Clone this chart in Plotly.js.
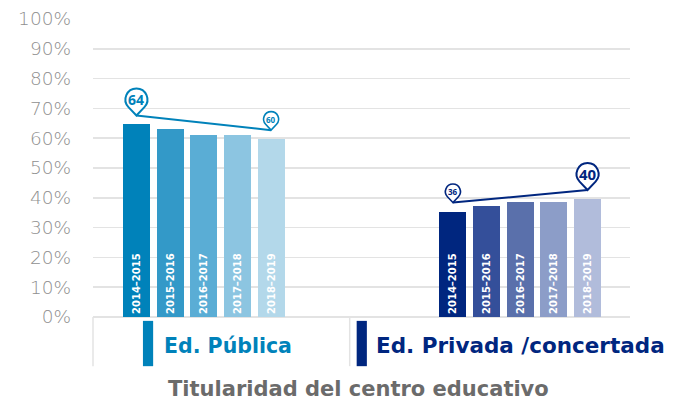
<!DOCTYPE html>
<html>
<head>
<meta charset="utf-8">
<script src="https://cdn.plot.ly/plotly-3.0.1.min.js"></script>
<style>
  html, body { margin: 0; padding: 0; background: #fff; }
  #chart { width: 676px; height: 403px; }
</style>
</head>
<body>
<div id="chart"></div>
<script>
// Datos
const cursos = ['2014–2015', '2015–2016', '2016–2017', '2017–2018', '2018–2019'];
const grupos = ['Ed. Pública', 'Ed. Privada /concertada'];
const publica = [64.6, 63.1, 61.2, 61.1, 59.7];
const privada = [35.4, 37.3, 38.6, 38.7, 39.6];
const etiquetasPublica = ['64', '60'];
const etiquetasPrivada = ['36', '40'];
const yTicks = [0, 10, 20, 30, 40, 50, 60, 70, 80, 90, 100];

const coloresPublica = ['#0082ba', '#3399c8', '#5aadd5', '#8cc5e1', '#b3d8ea'];
const coloresPrivada = ['#00267f', '#344f9a', '#5a70ab', '#8c9dc8', '#b1bcdb'];
const azul = '#0082ba';
const marino = '#00267f';

const FONT = '"DejaVu Sans", "Open Sans", sans-serif';
const FONT_PIN = '"Open Sans", "DejaVu Sans", sans-serif';
const GAP = 9.4; // separación entre grupos (en unidades de eje)

// Posiciones de las barras
const xPub = cursos.map((c, i) => i);
const xPriv = cursos.map((c, i) => i + GAP);

const barra = (x, y, colores) => ({
    type: 'bar',
    x: x,
    y: y,
    width: 0.8,
    marker: { color: colores, line: { width: 0 } },
    text: cursos,
    textposition: 'inside',
    insidetextanchor: 'start',
    textangle: -90,
    constraintext: 'none',
    textfont: { family: FONT, size: 10, color: '#ffffff', weight: 'bold' },
    hoverinfo: 'skip',
    showlegend: false
});

// Línea entre las dos chinchetas (punta 3 puntos por encima de la barra)
const OFF = 3;
const linea = (x, y, color) => ({
    type: 'scatter',
    mode: 'lines',
    x: [x[0], x[x.length - 1]],
    y: [y[0] + OFF, y[y.length - 1] + OFF],
    line: { color: color, width: 2 },
    hoverinfo: 'skip',
    showlegend: false
});

// Forma de chincheta en píxeles relativos a la punta
function pinPath(r, h) {
    const th = Math.acos(r / h);
    const a0 = -Math.PI / 2 - th;
    const total = 2 * Math.PI - 2 * th;
    const n = 4;
    const step = -total / n;
    const k = 4 / 3 * Math.tan(Math.abs(step) / 4) * r;
    const pt = a => [r * Math.cos(a), h + r * Math.sin(a)];
    let a = a0;
    let p = pt(a);
    let d = `M0,0 L${p[0].toFixed(2)},${p[1].toFixed(2)}`;
    for (let i = 0; i < n; i++) {
        const b = a + step;
        const q = pt(b);
        const c1 = [p[0] + k * Math.sin(a), p[1] - k * Math.cos(a)];
        const c2 = [q[0] - k * Math.sin(b), q[1] + k * Math.cos(b)];
        d += ` C${c1[0].toFixed(2)},${c1[1].toFixed(2)} ${c2[0].toFixed(2)},${c2[1].toFixed(2)} ${q[0].toFixed(2)},${q[1].toFixed(2)}`;
        a = b; p = q;
    }
    return d + ' Z';
}

const pin = (x, y, r, h, color, lw) => ({
    type: 'path',
    xref: 'x', yref: 'y',
    xsizemode: 'pixel', ysizemode: 'pixel',
    xanchor: x, yanchor: y,
    path: pinPath(r, h),
    fillcolor: '#ffffff',
    line: { color: color, width: lw },
    layer: 'above'
});

const pinText = (x, y, txt, h, size, color) => ({
    x: x, y: y, xref: 'x', yref: 'y',
    text: '<b>' + txt + '</b>',
    showarrow: false,
    yshift: h,
    font: { family: FONT_PIN, size: size, color: color }
});

const ultimo = cursos.length - 1;
const shapes = [
    pin(xPub[0], publica[0] + OFF, 11, 16, azul, 2),
    pin(xPub[ultimo], publica[ultimo] + OFF, 7.5, 11, azul, 1.6),
    pin(xPriv[0], privada[0] + OFF, 7.5, 11, marino, 1.6),
    pin(xPriv[ultimo], privada[ultimo] + OFF, 11, 16, marino, 2),
    // caja de la leyenda inferior
    { type: 'line', xref: 'paper', yref: 'paper', x0: 0, x1: 0, y0: 0, y1: -0.165, line: { color: '#e3e3e3', width: 1.5 } },
    { type: 'line', xref: 'paper', yref: 'paper', x0: 0.478, x1: 0.478, y0: 0, y1: -0.165, line: { color: '#e3e3e3', width: 1.5 } },
    { type: 'rect', xref: 'paper', yref: 'paper', x0: 0.093, x1: 0.112, y0: -0.013, y1: -0.165, fillcolor: azul, line: { width: 0 } },
    { type: 'rect', xref: 'paper', yref: 'paper', x0: 0.491, x1: 0.510, y0: -0.013, y1: -0.165, fillcolor: marino, line: { width: 0 } }
];

const annotations = [
    pinText(xPub[0], publica[0] + OFF, etiquetasPublica[0], 16, 14, azul),
    pinText(xPub[ultimo], publica[ultimo] + OFF, etiquetasPublica[1], 11, 8, azul),
    pinText(xPriv[0], privada[0] + OFF, etiquetasPrivada[0], 11, 8, marino),
    pinText(xPriv[ultimo], privada[ultimo] + OFF, etiquetasPrivada[1], 16, 15, marino),
    {
        xref: 'paper', yref: 'paper', x: 0.128, y: -0.097,
        xanchor: 'left', yanchor: 'middle', showarrow: false,
        text: '<b>' + grupos[0] + '</b>',
        font: { family: FONT, size: 20.5, color: azul }
    },
    {
        xref: 'paper', yref: 'paper', x: 0.524, y: -0.097,
        xanchor: 'left', yanchor: 'middle', showarrow: false,
        text: '<b>' + grupos[1] + '</b>',
        font: { family: FONT, size: 21.5, color: marino }
    },
    {
        xref: 'paper', yref: 'paper', x: 0.495, y: -0.24,
        xanchor: 'center', yanchor: 'middle', showarrow: false,
        text: '<b>Titularidad del centro educativo</b>',
        font: { family: FONT, size: 21, color: '#6b6b6b' }
    }
];

const layout = {
    width: 676,
    height: 403,
    margin: { l: 93, r: 46, t: 19, b: 86 },
    paper_bgcolor: '#ffffff',
    plot_bgcolor: '#ffffff',
    bargap: 0,
    xaxis: {
        range: [-1.29, 14.66],
        showgrid: false,
        zeroline: false,
        showticklabels: false,
        showline: false,
        fixedrange: true
    },
    yaxis: {
        range: [0, 100],
        tickvals: yTicks,
        ticktext: yTicks.map(v => v + '%'),
        showgrid: true,
        gridcolor: '#e3e3e3',
        gridwidth: 1.5,
        zeroline: true,
        zerolinecolor: '#e3e3e3',
        zerolinewidth: 1.5,
        ticks: '',
        ticklabelstandoff: 21,
        tickfont: { family: FONT, size: 18.5, color: '#8f8f8f', weight: 300 },
        fixedrange: true
    },
    shapes: shapes,
    annotations: annotations
};

const data = [
    barra(xPub, publica, coloresPublica),
    barra(xPriv, privada, coloresPrivada),
    linea(xPub, publica, azul),
    linea(xPriv, privada, marino)
];

Plotly.newPlot('chart', data, layout, { displayModeBar: false, staticPlot: true });
</script>
</body>
</html>
